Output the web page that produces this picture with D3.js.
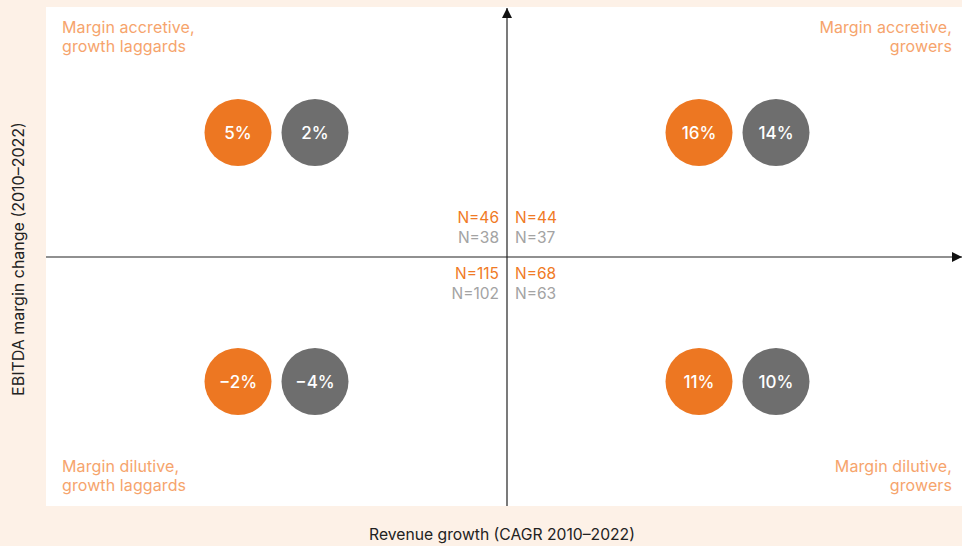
<!DOCTYPE html>
<html><head><meta charset="utf-8">
<script src="https://cdn.jsdelivr.net/npm/d3@7"></script>
<style>
html,body{margin:0;padding:0;background:#fdf1e7;}
svg{display:block;font-family:Inter,"Open Sans",sans-serif;}
</style></head>
<body>
<div id="chart"></div>
<script>
// quadrants: x side (-1 left, 1 right), y side (1 top, -1 bottom)
const quadrants = ["accretiveLaggards","accretiveGrowers","dilutiveLaggards","dilutiveGrowers"];
const quadX = [-1, 1, -1, 1];
const quadY = [1, 1, -1, -1];
const quadLabels = [
  ["Margin accretive,","growth laggards"],
  ["Margin accretive,","growers"],
  ["Margin dilutive,","growth laggards"],
  ["Margin dilutive,","growers"]
];
const seriesNames = ["Series A","Series B"];
const seriesA = [5, 16, -2, 11];
const seriesB = [2, 14, -4, 10];
const countsA = [46, 44, 115, 68];
const countsB = [38, 37, 102, 63];
const xTitle = "Revenue growth (CAGR 2010\u20132022)";
const yTitle = "EBITDA margin change (2010\u20132022)";

const W = 962, H = 546;
const colA = "#ed7722", colB = "#6e6e6e";
const labelCol = "#f6a46c", nColA = "#f07a25", nColB = "#a3a3a3";

const svg = d3.select("#chart").append("svg").attr("width", W).attr("height", H);

const panel = {x0: 46, x1: 962, y0: 7, y1: 506};
const x = d3.scaleLinear().domain([-1, 1]).range([46, 968]);
const y = d3.scaleLinear().domain([-1, 1]).range([506, 8]);

svg.append("rect").attr("x", panel.x0).attr("y", panel.y0)
  .attr("width", panel.x1 - panel.x0).attr("height", panel.y1 - panel.y0).attr("fill", "#fff");

// arrow markers
const defs = svg.append("defs");
defs.append("marker").attr("id","arr").attr("viewBox","0 0 10 10").attr("refX",10).attr("refY",5)
  .attr("markerWidth",10).attr("markerHeight",11).attr("markerUnits","userSpaceOnUse").attr("orient","auto")
  .append("path").attr("d","M0,0L10,5L0,10Z").attr("fill","#111");

// axes
svg.append("line").attr("x1", x(-1)).attr("x2", 962).attr("y1", y(0)).attr("y2", y(0))
  .attr("stroke","#222").attr("stroke-width",1.2).attr("marker-end","url(#arr)");
svg.append("line").attr("x1", x(0)).attr("x2", x(0)).attr("y1", y(-1)).attr("y2", 8)
  .attr("stroke","#222").attr("stroke-width",1.2).attr("marker-end","url(#arr)");

// circles
const off = 0.0835;
const r = 33.5;
quadrants.forEach((q, i) => {
  const cx = quadX[i] * 0.5, cy = quadY[i] * 0.5;
  [[seriesA[i], colA, -off], [seriesB[i], colB, off]].forEach(([v, c, o]) => {
    const g = svg.append("g").attr("transform", `translate(${x(cx + o)},${y(cy)})`);
    g.append("circle").attr("r", r).attr("fill", c);
    g.append("text").attr("text-anchor","middle").attr("dy","0.36em")
      .attr("fill","#fff").attr("font-size",17).attr("font-weight",500)
      .text((v < 0 ? "\u2212" + Math.abs(v) : v) + "%");
  });
  // quadrant labels
  const right = quadX[i] > 0;
  const top = quadY[i] > 0;
  const lx = right ? 952 : 62;
  const ly = top ? 33 : 472;
  const t = svg.append("text").attr("x", lx).attr("y", ly)
    .attr("text-anchor", right ? "end" : "start").attr("fill", labelCol).attr("font-size",16)
    .attr("letter-spacing", 0.1);
  quadLabels[i].forEach((s, k) => t.append("tspan").attr("x", lx).attr("dy", k ? 19 : 0).text(s));
  // N labels
  const nx = right ? x(0) + 8 : x(0) - 8;
  const ny = top ? 223 : 279;
  svg.append("text").attr("x", nx).attr("y", ny).attr("text-anchor", right ? "start" : "end")
    .attr("fill", nColA).attr("font-size",15.5).text("N=" + countsA[i]);
  svg.append("text").attr("x", nx).attr("y", ny + 20).attr("text-anchor", right ? "start" : "end")
    .attr("fill", nColB).attr("font-size",15.5).text("N=" + countsB[i]);
});

// axis titles
svg.append("text").attr("x", x(0) - 5).attr("y", 540).attr("text-anchor","middle")
  .attr("fill","#222").attr("font-size",15.7).text(xTitle);
svg.append("text").attr("transform", `translate(24,${y(0) + 2}) rotate(-90)`).attr("text-anchor","middle")
  .attr("fill","#222").attr("font-size",16).text(yTitle);
</script>
</body></html>
